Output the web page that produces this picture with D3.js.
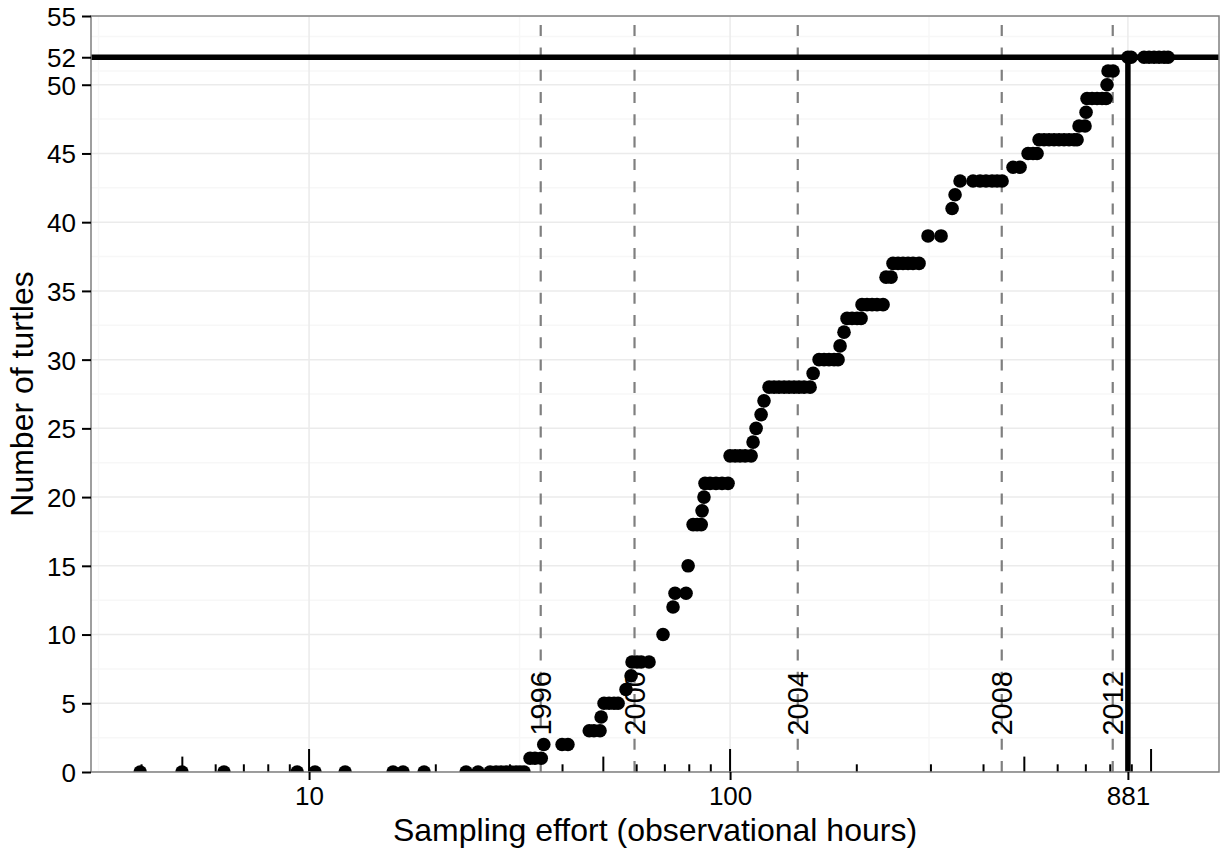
<!DOCTYPE html>
<html>
<head>
<meta charset="utf-8">
<script src="https://cdn.jsdelivr.net/npm/d3@7"></script>
<style>
  body { margin: 0; background: #fff; }
  svg { display: block; }
  text { font-family: "Liberation Sans", Arial, Helvetica, sans-serif; fill: #000; }
</style>
</head>
<body>
<svg id="chart" width="1225" height="852"></svg>
<script>
// Discovery curve: cumulative observation hours vs. number of distinct turtles identified
const turtles = [
  0,0,0,0,0,0,0,0,0,0,0,0,0,0,0,0,0,0,0,
  1,1,1,
  2,2,2,
  3,3,3,
  4,
  5,5,5,5,
  6,
  7,
  8,8,8,8,
  10,
  12,
  13,13,
  15,
  18,18,18,
  19,
  20,
  21,21,21,21,21,
  23,23,23,23,23,
  24,
  25,
  26,
  27,
  28,28,28,28,28,28,28,28,28,
  29,
  30,30,30,30,30,
  31,
  32,
  33,33,33,33,
  34,34,34,34,34,
  36,36,
  37,37,37,37,37,37,
  39,39,
  41,
  42,
  43,43,43,43,43,43,43,
  44,44,
  45,45,45,
  46,46,46,46,46,46,46,46,46,
  47,47,
  48,
  49,49,49,49,49,
  50,
  51,51,
  52,52,52,52,52,52,52,52
];
const hours = [
  3.97,4.99,6.28,9.37,10.33,12.18,15.83,16.72,18.76,23.60,25.20,26.91,27.81,28.58,29.37,30.19,31.02,31.71,32.41,
  33.5,34.4,35.6,
  36.1,39.9,41.2,
  46.3,47.5,49.1,
  49.4,
  50.2,51.6,53.0,54.2,
  56.6,
  58.2,
  58.5,60.1,61.5,64.2,
  69.3,
  73.2,
  74.0,78.6,
  79.5,
  81.7,83.5,85.4,
  85.8,
  86.7,
  87.2,89.6,92.6,95.7,98.9,
  100.0,102.8,105.6,108.6,112.2,
  113.4,
  115.3,
  118.5,
  120.4,
  123.8,127.2,130.7,134.4,138.1,141.9,145.8,149.9,154.9,
  157.5,
  162.7,167.2,171.8,176.6,180.5,
  182.5,
  186.5,
  189.6,194.9,200.3,204.7,
  205.8,211.5,217.4,223.4,230.9,
  234.7,241.2,
  243.8,250.6,257.5,264.7,272.0,281.1,
  295.3,317.1,
  336.8,
  342.3,
  351.8,377.7,392.5,405.5,419.1,430.7,442.7,
  470.1,488.4,
  510.3,524.4,536.0,
  541.9,556.9,572.4,588.2,604.5,621.3,638.5,656.2,667.1,
  674.4,696.9,
  700.8,
  704.6,724.1,744.2,764.8,781.8,
  786.0,
  790.3,812.3,
  881,896.6,962.4,989.1,1016.6,1044.7,1073.6,1097.5
];

// Start of each survey year, in cumulative hours
const yearLabels = ["1996", "2000", "2004", "2008", "2012"];
const yearHours = [35.5, 59.3, 144.8, 441.9, 810.9];

// Asymptote reached: total turtles and the effort needed to reach it
const totalTurtles = 52;
const effortAtTotal = 881;

const xTicks = [10, 100, 881];
const yTicks = [0, 5, 10, 15, 20, 25, 30, 35, 40, 45, 50, 52, 55];

const xTitle = "Sampling effort (observational hours)";
const yTitle = "Number of turtles";

// ---- layout ----
const panel = { left: 91, right: 1219, top: 16, bottom: 772 };
const svg = d3.select("#chart");

const x = d3.scaleLog().domain([3.034, 1450]).range([panel.left, panel.right]);
const y = d3.scaleLinear().domain([0, 55]).range([panel.bottom, panel.top]);

svg.append("defs").append("clipPath").attr("id", "panel-clip")
  .append("rect")
  .attr("x", panel.left).attr("y", panel.top)
  .attr("width", panel.right - panel.left).attr("height", panel.bottom - panel.top);

const plot = svg.append("g").attr("clip-path", "url(#panel-clip)");

// minor grid: midpoints between major breaks (log-space for x)
const lx = xTicks.map(Math.log10);
const xMinor = [];
const xExt = [lx[0] - (lx[1] - lx[0]), ...lx, lx[lx.length - 1] + (lx[lx.length - 1] - lx[lx.length - 2])];
for (let i = 0; i < xExt.length - 1; i++) xMinor.push(Math.pow(10, (xExt[i] + xExt[i + 1]) / 2));
const yMinor = [];
for (let i = 0; i < yTicks.length - 1; i++) yMinor.push((yTicks[i] + yTicks[i + 1]) / 2);

const grid = plot.append("g");
grid.selectAll(".xminor").data(xMinor.filter(v => v >= x.domain()[0] && v <= x.domain()[1])).join("line")
  .attr("x1", d => x(d)).attr("x2", d => x(d))
  .attr("y1", panel.top).attr("y2", panel.bottom)
  .attr("stroke", "#f7f7f7").attr("stroke-width", 1.5);
grid.selectAll(".yminor").data(yMinor).join("line")
  .attr("x1", panel.left).attr("x2", panel.right)
  .attr("y1", d => y(d)).attr("y2", d => y(d))
  .attr("stroke", "#f7f7f7").attr("stroke-width", 1.5);
grid.selectAll(".xmajor").data(xTicks).join("line")
  .attr("x1", d => x(d)).attr("x2", d => x(d))
  .attr("y1", panel.top).attr("y2", panel.bottom)
  .attr("stroke", "#ebebeb").attr("stroke-width", 1.5);
grid.selectAll(".ymajor").data(yTicks).join("line")
  .attr("x1", panel.left).attr("x2", panel.right)
  .attr("y1", d => y(d)).attr("y2", d => y(d))
  .attr("stroke", "#ebebeb").attr("stroke-width", 1.5);

// survey-year markers
plot.append("g").selectAll("line").data(yearHours).join("line")
  .attr("x1", d => x(d)).attr("x2", d => x(d))
  .attr("y1", panel.bottom).attr("y2", panel.top)
  .attr("stroke", "#7f7f7f").attr("stroke-width", 2.2)
  .attr("stroke-dasharray", "11,11.3");

// log ticks along the bottom of the panel
const logTicks = [];
for (let k = 0; k <= 3; k++) {
  for (let m = 1; m <= 9; m++) {
    const v = m * Math.pow(10, k);
    if (v >= x.domain()[0] && v <= x.domain()[1]) logTicks.push({ v, len: m === 1 ? 23 : (m === 5 ? 15.4 : 7.7) });
  }
}
plot.append("g").selectAll("line").data(logTicks).join("line")
  .attr("x1", d => x(d.v)).attr("x2", d => x(d.v))
  .attr("y1", panel.bottom).attr("y2", d => panel.bottom - d.len)
  .attr("stroke", "#000").attr("stroke-width", 2);

// observations
plot.append("g").selectAll("circle").data(hours.map((h, i) => ({ h, n: turtles[i] }))).join("circle")
  .attr("cx", d => x(d.h)).attr("cy", d => y(d.n)).attr("r", 6.8)
  .attr("fill", "#000");

// asymptote and the effort at which it is reached
plot.append("line")
  .attr("x1", panel.left).attr("x2", panel.right)
  .attr("y1", y(totalTurtles)).attr("y2", y(totalTurtles))
  .attr("stroke", "#000").attr("stroke-width", 5.5);
plot.append("line")
  .attr("x1", x(effortAtTotal)).attr("x2", x(effortAtTotal))
  .attr("y1", y(0)).attr("y2", y(totalTurtles))
  .attr("stroke", "#000").attr("stroke-width", 5.5);

// year labels
svg.append("g").selectAll("text").data(yearHours).join("text")
  .attr("transform", d => `translate(${x(d)},${y(5)}) rotate(-90)`)
  .attr("text-anchor", "middle")
  .attr("dy", "0.36em")
  .style("font-size", "29px")
  .text((d, i) => yearLabels[i]);

// panel border
svg.append("rect")
  .attr("x", panel.left).attr("y", panel.top)
  .attr("width", panel.right - panel.left).attr("height", panel.bottom - panel.top)
  .attr("fill", "none").attr("stroke", "#7f7f7f").attr("stroke-width", 1.5);

// axes
const xAxis = svg.append("g").attr("transform", `translate(0,${panel.bottom})`)
  .call(d3.axisBottom(x).tickValues(xTicks).tickFormat(d3.format("d")).tickSize(8).tickPadding(7));
const yAxis = svg.append("g").attr("transform", `translate(${panel.left},0)`)
  .call(d3.axisLeft(y).tickValues(yTicks).tickFormat(d3.format("d")).tickSize(9).tickPadding(6));
[xAxis, yAxis].forEach(a => {
  a.select(".domain").remove();
  a.selectAll(".tick line").attr("stroke", "#000").attr("stroke-width", 2);
  a.selectAll(".tick text").style("font-size", "26px").attr("fill", "#000")
    .style("font-family", "'Liberation Sans', Arial, sans-serif");
});
xAxis.selectAll(".tick text").attr("dy", "0.71em");
yAxis.selectAll(".tick text").attr("dy", "0.36em");

// axis titles
svg.append("text")
  .attr("x", (panel.left + panel.right) / 2).attr("y", 841)
  .attr("text-anchor", "middle").style("font-size", "32px")
  .text(xTitle);
svg.append("text")
  .attr("transform", `translate(33,${(panel.top + panel.bottom) / 2}) rotate(-90)`)
  .attr("text-anchor", "middle").style("font-size", "32px")
  .text(yTitle);
</script>
</body>
</html>
